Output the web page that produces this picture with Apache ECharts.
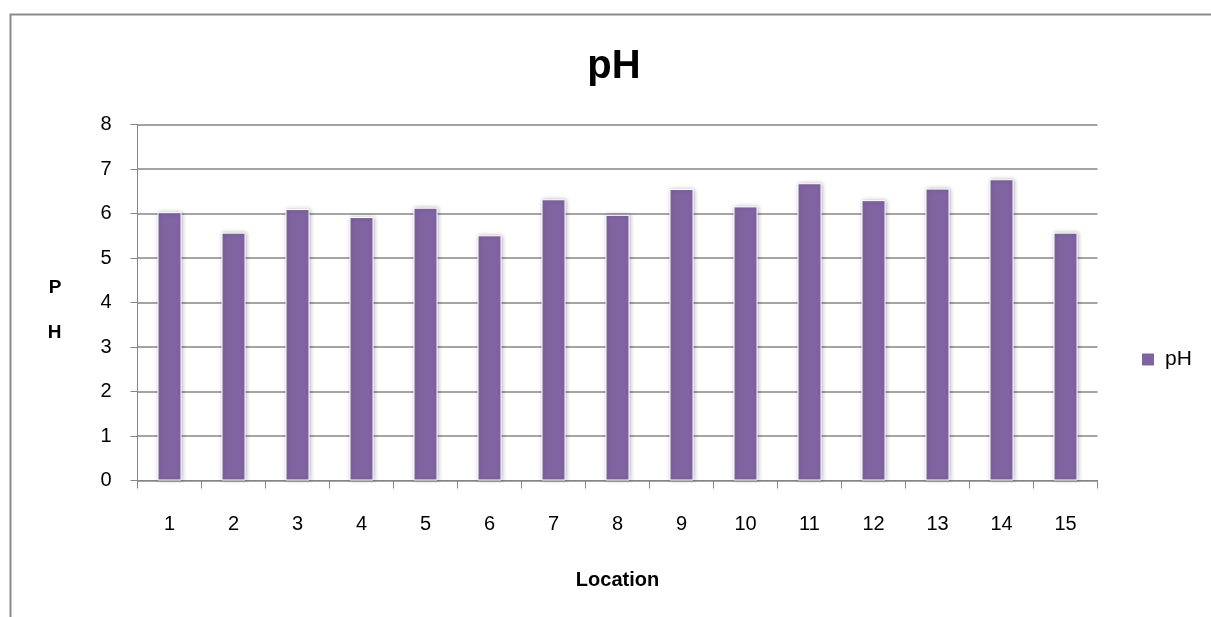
<!DOCTYPE html>
<html>
<head>
<meta charset="utf-8">
<script src="https://cdn.jsdelivr.net/npm/echarts@6/dist/echarts.min.js"></script>
<style>
  html, body { margin: 0; padding: 0; background: #ffffff; }
  #chart { width: 1211px; height: 617px; }
</style>
</head>
<body>
<div id="chart"></div>
<script>
// Sampling locations and measured pH
const locations = ['1', '2', '3', '4', '5', '6', '7', '8', '9', '10', '11', '12', '13', '14', '15'];
const phValues = [6.03, 5.57, 6.10, 5.92, 6.13, 5.51, 6.32, 5.97, 6.55, 6.16, 6.68, 6.30, 6.56, 6.77, 5.57];
const seriesName = 'pH';

const FONT = '"Liberation Sans", Arial, sans-serif';
const GRID_LINE = '#868686';

const chart = echarts.init(document.getElementById('chart'), null, { renderer: 'canvas' });

chart.setOption({
  backgroundColor: '#ffffff',
  animation: false,
  title: {
    text: 'pH',
    left: 609,
    top: 42,
    textAlign: 'center',
    textStyle: { fontFamily: FONT, fontSize: 40, fontWeight: 'bold', color: '#000000' }
  },
  graphic: [{
    type: 'rect',
    left: 8, top: 12,
    shape: { x: 0, y: 0, width: 1300, height: 700 },
    style: { fill: 'none', stroke: '#8a8a8a', lineWidth: 2 },
    silent: true
  }],
  legend: {
    data: [seriesName],
    left: 1137,
    top: 344,
    icon: 'rect',
    itemWidth: 12,
    itemHeight: 12,
    itemGap: 6,
    itemStyle: { borderWidth: 0, shadowBlur: 0 },
    textStyle: { fontFamily: FONT, fontSize: 21, color: '#000000', padding: [0, 0, 0, 6] }
  },
  grid: {
    left: 137.5,
    right: 113.5,
    top: 124.5,
    height: 356
  },
  xAxis: {
    type: 'category',
    data: locations,
    name: 'Location',
    nameLocation: 'middle',
    nameGap: 90,
    nameTextStyle: { fontFamily: FONT, fontSize: 20, fontWeight: 'bold', color: '#000000' },
    axisLine: { show: true, lineStyle: { color: GRID_LINE, width: 1 } },
    axisTick: { show: true, alignWithLabel: false, length: 8, lineStyle: { color: GRID_LINE } },
    axisLabel: { margin: 34, fontFamily: FONT, fontSize: 20, color: '#000000' },
    splitLine: { show: false }
  },
  yAxis: {
    type: 'value',
    min: 0,
    max: 8,
    interval: 1,
    // stacked letters, with a small spacer line pushing them a little below the axis middle
    name: '{gap| }\n{v|P}\n{v|H}',
    nameLocation: 'middle',
    nameRotate: 0,
    nameGap: 76,
    nameTextStyle: {
      rich: {
        gap: { fontSize: 10, lineHeight: 16 },
        v: { fontFamily: FONT, fontSize: 19, fontWeight: 'bold', color: '#000000', lineHeight: 45 }
      }
    },
    axisLine: { show: true, lineStyle: { color: GRID_LINE, width: 1 } },
    axisTick: { show: true, inside: false, length: 7, lineStyle: { color: GRID_LINE } },
    axisLabel: { margin: 26, fontFamily: FONT, fontSize: 20, color: '#000000' },
    splitLine: { show: true, lineStyle: { color: GRID_LINE, width: 1.5 } }
  },
  series: [{
    name: seriesName,
    type: 'bar',
    data: phValues,
    barWidth: 24,
    itemStyle: {
      color: '#8064a2',
      borderColor: '#ffffff',
      borderWidth: 1,
      shadowColor: 'rgba(0,0,0,0.28)',
      shadowBlur: 4,
      shadowOffsetX: 1,
      shadowOffsetY: 0
    }
  }]
});
</script>
</body>
</html>
